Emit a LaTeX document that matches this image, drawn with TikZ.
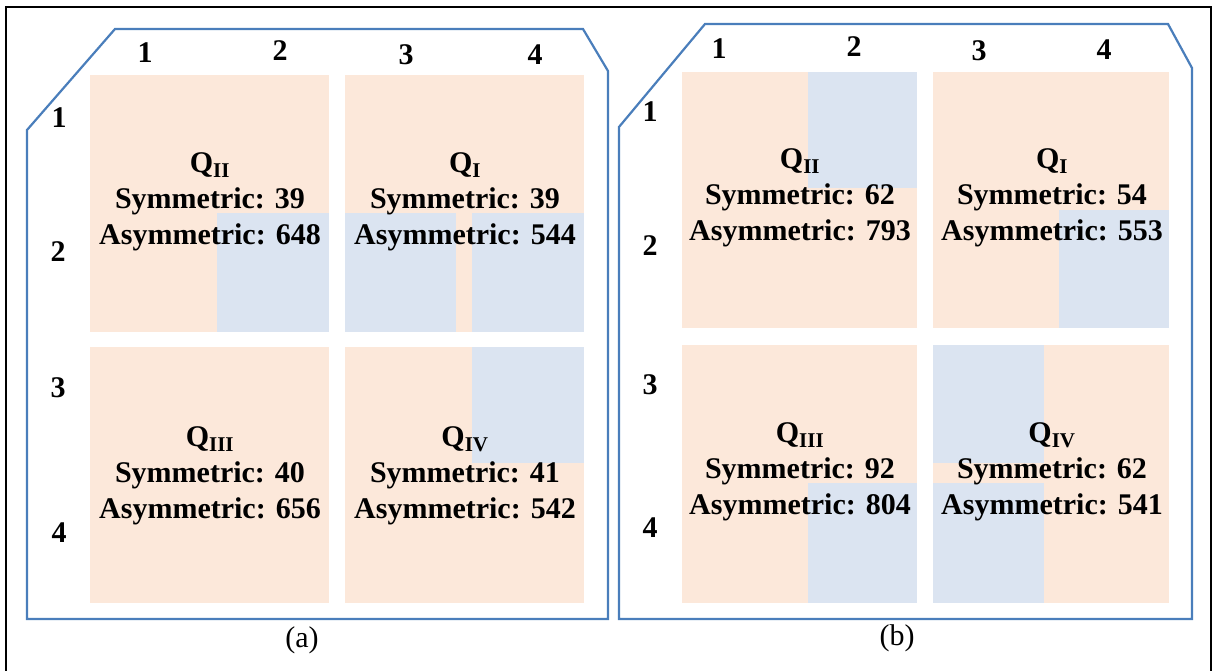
\documentclass[tikz,border=0pt]{standalone}
\usepackage{fontspec}
\setmainfont{Liberation Serif}
\definecolor{qorange}{HTML}{FCE8DA}
\definecolor{qblue}{HTML}{DBE4F1}
\definecolor{outl}{HTML}{4A7EBB}
\tikzset{
  frameline/.style={draw=black, line width=1.5pt},
  panel/.style={draw=outl, line width=2.2pt, line join=miter},
  quadfill/.style={fill=qorange},
  bluefill/.style={fill=qblue},
  qtext/.style={font=\bfseries\fontsize{30}{36}\selectfont, align=center, inner sep=0pt},
  idx/.style={font=\bfseries\fontsize{30}{36}\selectfont, inner sep=0pt},
  caplabel/.style={font=\fontsize{30}{36}\selectfont, inner sep=0pt}
}
\begin{document}
\begin{tikzpicture}[x=1pt,y=-1pt]
\useasboundingbox (0,0) rectangle (1214,671);
% outer frame
\draw[frameline] (6,675) -- (6,7) -- (1211,7) -- (1211,675);

% ---------- panel (a) ----------
\fill[quadfill] (90,75) rectangle (329,332);
\fill[quadfill] (345,75) rectangle (584,332);
\fill[quadfill] (90,347) rectangle (329,603);
\fill[quadfill] (345,347) rectangle (584,603);
\fill[bluefill] (217,213) rectangle (329,332);
\fill[bluefill] (345,213) rectangle (456,332);
\fill[bluefill] (472,213) rectangle (584,332);
\fill[bluefill] (472,347) rectangle (584,463);
\draw[panel] (115,29) -- (583,29) -- (608,71) -- (608,619) -- (27,619) -- (27,130) -- cycle;

\node[qtext] (aII) at (210,202) {Q\textsubscript{II}\\Symmetric: 39\\Asymmetric: 648};
\node[qtext] (aI) at (465,202) {Q\textsubscript{I}\\Symmetric: 39\\Asymmetric: 544};
\node[qtext] (aIII) at (210,476) {Q\textsubscript{III}\\Symmetric: 40\\Asymmetric: 656};
\node[qtext] (aIV) at (465,476) {Q\textsubscript{IV}\\Symmetric: 41\\Asymmetric: 542};

\node[idx] (ac1) at (145,53) {1};
\node[idx] (ac2) at (280,51) {2};
\node[idx] (ac3) at (406,55) {3};
\node[idx] (ac4) at (535,55) {4};
\node[idx] (ar1) at (59,118) {1};
\node[idx] (ar2) at (58,252) {2};
\node[idx] (ar3) at (58,388) {3};
\node[idx] (ar4) at (59,533) {4};
\node[caplabel] (capa) at (302,640) {(a)};

% ---------- panel (b) ----------
\fill[quadfill] (682,72) rectangle (917,328);
\fill[quadfill] (933,72) rectangle (1169,328);
\fill[quadfill] (682,345) rectangle (917,603);
\fill[quadfill] (933,345) rectangle (1169,603);
\fill[bluefill] (808,72) rectangle (917,188);
\fill[bluefill] (1059,210) rectangle (1169,328);
\fill[bluefill] (808,483) rectangle (917,603);
\fill[bluefill] (933,345) rectangle (1044,463);
\fill[bluefill] (933,483) rectangle (1044,603);
\draw[panel] (705,24) -- (1168,24) -- (1192,68) -- (1192,619) -- (619,619) -- (619,127) -- cycle;

\node[qtext] (bII) at (800,198) {Q\textsubscript{II}\\Symmetric: 62\\Asymmetric: 793};
\node[qtext] (bI) at (1052,198) {Q\textsubscript{I}\\Symmetric: 54\\Asymmetric: 553};
\node[qtext] (bIII) at (800,472) {Q\textsubscript{III}\\Symmetric: 92\\Asymmetric: 804};
\node[qtext] (bIV) at (1052,472) {Q\textsubscript{IV}\\Symmetric: 62\\Asymmetric: 541};

\node[idx] (bc1) at (719,49) {1};
\node[idx] (bc2) at (854,47) {2};
\node[idx] (bc3) at (979,51) {3};
\node[idx] (bc4) at (1104,50) {4};
\node[idx] (br1) at (650,112) {1};
\node[idx] (br2) at (650,246) {2};
\node[idx] (br3) at (650,385) {3};
\node[idx] (br4) at (650,528) {4};
\node[caplabel] (capb) at (897,638) {(b)};
\end{tikzpicture}
\end{document}
